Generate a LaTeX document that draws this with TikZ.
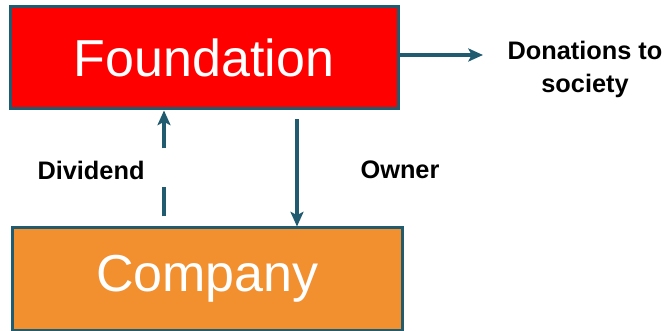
\documentclass[tikz,border=0pt]{standalone}
\usepackage{fontspec}
\setmainfont{Liberation Sans}
\usepackage{tikz}
\usetikzlibrary{arrows.meta,positioning}
\definecolor{linkblue}{HTML}{215B70}
\definecolor{fdred}{HTML}{FF0000}
\definecolor{coorange}{HTML}{F28F2F}

\begin{document}
\begin{tikzpicture}[x=0.75pt,y=-0.75pt,->,>={Stealth[length=11pt,width=9.75pt,inset=2.5pt]},line width=2.25pt,
box node/.style={rectangle,draw=linkblue,line width=2.25pt,text=white,
  font=\fontsize{39}{39}\selectfont,minimum height=76.5pt},
label node/.style={font=\fontsize{19}{24.75}\selectfont\bfseries,align=center}]

\useasboundingbox (0,0) rectangle (667,331);

\node[box node,fill=fdred,minimum width=291pt] (found) at (204,58) {Foundation};
\node[box node,fill=coorange,minimum width=292pt] (comp) at (207.5,279) {Company};

\node[label node] (don) at (585,69) {Donations to\\society};
\node[label node] (div) at (91,170) {Dividend};
\node[label node] (own) at (400,170) {Owner};

\coordinate (dtip) at (483,55);
\coordinate (divx) at (164,0);
\coordinate (ownx) at (297,0);

\path[every edge/.style={draw=linkblue,line width=2.4pt}]
(found.east |- dtip) edge (dtip)
(comp.north -| divx) edge [dash pattern=on 21.75pt off 29.25pt,shorten <=7.5pt] (found.south -| divx)
(found.south -| ownx) edge [shorten <=6.75pt] (comp.north -| ownx)
;
\end{tikzpicture}
\end{document}
